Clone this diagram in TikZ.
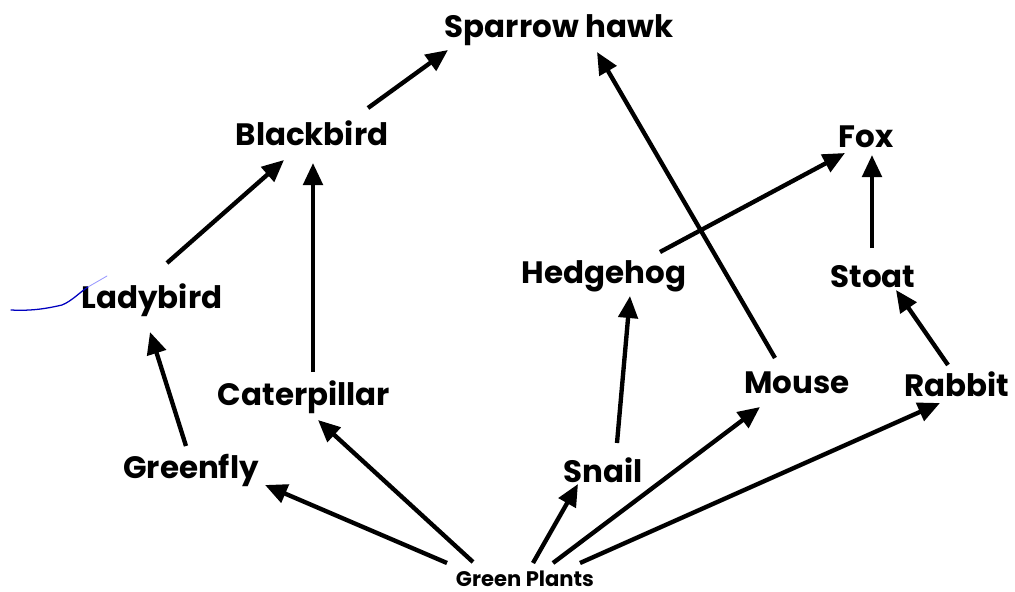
\documentclass[tikz,border=0pt]{standalone}
\usepackage{fontspec}
\setmainfont{Poppins}
\usetikzlibrary{arrows.meta,calc}
\tikzset{
  lbl/.style={font=\fontsize{22}{25}\selectfont\bfseries, inner sep=0pt},
  small/.style={font=\fontsize{15}{18}\selectfont\bfseries, inner sep=0pt},
  arr/.style={line width=3.1pt, -{Triangle[length=0.55cm,width=0.48cm]}},
}
\begin{document}
\begin{tikzpicture}[x=0.025cm,y=-0.025cm]
\useasboundingbox (0,0) rectangle (1015,592);
\fill[white] (0,0) rectangle (1015,592);
\node[lbl] (hawk) at (559,30) {Sparrow hawk};
\node[lbl] (bb) at (312,133) {Blackbird};
\node[lbl] (fox) at (866,137) {Fox};
\node[lbl] (lady) at (152,300) {Ladybird};
\node[lbl] (hedge) at (604,276) {Hedgehog};
\node[lbl] (stoat) at (873,277) {Stoat};
\node[lbl] (cat) at (304,397) {Caterpillar};
\node[lbl] (mouse) at (797,383) {Mouse};
\node[lbl] (rabbit) at (957,384) {Rabbit};
\node[lbl] (greenfly) at (191,470) {Greenfly};
\node[lbl] (snail) at (603,470) {Snail};
\node[small] (gp) at (525,579) {Green Plants};
% connectors
\draw[arr] ($(bb)+(56,-25)$) -- ($(hawk)+(-111,20)$);
\draw[arr] ($(mouse)+(-22,-25)$) -- ($(hawk)+(38,22)$);
\draw[arr] ($(lady)+(15,-37)$) -- ($(bb)+(-28,27)$);
\draw[arr] ($(cat)+(9,-25)$) -- ($(bb)+(1,30)$);
\draw[arr] ($(hedge)+(56,-24)$) -- ($(fox)+(-21,16)$);
\draw[arr] ($(stoat)+(-1,-29)$) -- ($(fox)+(6,18)$);
\draw[arr] ($(greenfly)+(-5,-24)$) -- ($(lady)+(-2,32)$);
\draw[arr] ($(rabbit)+(-9,-19)$) -- ($(stoat)+(23,13)$);
\draw[arr] ($(snail)+(14,-27)$) -- ($(hedge)+(26,20)$);
\draw[arr] ($(gp)+(-78,-16)$) -- ($(greenfly)+(74,15)$);
\draw[arr] ($(gp)+(-52,-17)$) -- ($(cat)+(14,23)$);
\draw[arr] ($(gp)+(8,-16)$) -- ($(snail)+(-25,14)$);
\draw[arr] ($(gp)+(28,-16)$) -- ($(mouse)+(-37,24)$);
\draw[arr] ($(gp)+(55,-16)$) -- ($(rabbit)+(-17,19)$);
% blue pen mark
\draw[blue!75!black, line width=0.9pt, line cap=round]
  (11,310) .. controls (30,311) and (45,309) .. (62,305)
  .. controls (72,301) and (80,292) .. (88,287);
\draw[blue!40, line width=0.6pt, line cap=round] (88,287) -- (107,276);
\end{tikzpicture}
\end{document}
